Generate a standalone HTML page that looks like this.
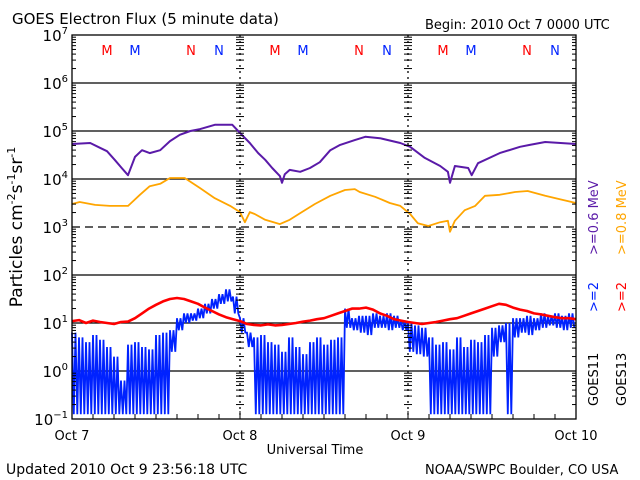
<!DOCTYPE html>
<html><head><meta charset="utf-8"><style>
body{margin:0;background:#fff;}
svg{display:block;font-family:"DejaVu Sans","Liberation Sans",sans-serif;}
</style></head><body>
<svg id="c" width="640" height="480" xmlns="http://www.w3.org/2000/svg">
<rect width="640" height="480" fill="#fff"/>
<text x="12" y="24" font-size="15">GOES Electron Flux (5 minute data)</text>
<text x="425" y="29" font-size="13">Begin: 2010 Oct 7 0000 UTC</text>
<text x="6" y="474" font-size="14">Updated 2010 Oct  9 23:56:18 UTC</text>
<text x="425" y="474" font-size="13">NOAA/SWPC Boulder, CO USA</text>
<text x="315" y="454" font-size="13" text-anchor="middle">Universal Time</text>
<text transform="translate(22,227) rotate(-90)" font-size="17" text-anchor="middle">Particles cm<tspan dy="-7" font-size="11">-2</tspan><tspan dy="7">s</tspan><tspan dy="-7" font-size="11">-1</tspan><tspan dy="7">sr</tspan><tspan dy="-7" font-size="11">-1</tspan></text>
<g font-size="13">
<text transform="translate(598,255) rotate(-90)" fill="#5a1aa8">&gt;=0.6 MeV</text>
<text transform="translate(626,255) rotate(-90)" fill="#ffa500">&gt;=0.8 MeV</text>
<text transform="translate(598,312) rotate(-90)" fill="#0022ff">&gt;=2</text>
<text transform="translate(626,312) rotate(-90)" fill="#ff0000">&gt;=2</text>
<text transform="translate(598,406) rotate(-90)">GOES11</text>
<text transform="translate(626,406) rotate(-90)">GOES13</text>
</g>
<g id="grid"></g><g id="series"></g><g id="axes"></g>
</svg>
<script>
const dayLabels=["Oct 7","Oct 8","Oct 9","Oct 10"];
const decades=[7,6,5,4,3,2,1,0,-1];
const markerLabels=["M","M","N","N"];
const markerHours=[5,9,17,21];
const purpleT=[0,2.6,4,5,6.1,7.1,8,9,10,11.1,12.6,14,15.4,16.9,18.3,20.4,22.9,24,25.4,26.6,27.6,28.6,29.7,30,30.4,31.1,32.6,34,35.4,36.9,38.3,40.4,41.9,44,46.9,48.3,50.4,52.6,53.7,54,54.7,56.6,57.1,58,61.1,64,65.4,67.6,72];
const purpleV=[4.73,4.75,4.65,4.58,4.40,4.23,4.08,4.46,4.60,4.54,4.60,4.79,4.92,5.0,5.04,5.13,5.13,4.96,4.75,4.54,4.40,4.23,4.06,3.92,4.10,4.19,4.15,4.23,4.35,4.60,4.71,4.81,4.88,4.85,4.75,4.67,4.44,4.27,4.15,3.92,4.27,4.23,4.08,4.33,4.54,4.67,4.71,4.77,4.73];
const orangeT=[0,1.1,3.3,5.4,8,8.3,9.7,11.1,12.6,14,16.1,18.3,20.4,22.6,24,24.7,25.4,26.1,27.6,29.7,31.1,32.6,34.7,36.9,39,40.4,41.1,43.3,45.4,46.9,48.3,49.4,50.9,52.6,53.7,54,54.7,56.1,57.6,59,61.1,63.3,65.1,67.6,69.7,72];
const orangeV=[3.48,3.52,3.46,3.44,3.44,3.48,3.67,3.85,3.90,4.02,4.02,3.81,3.60,3.44,3.31,3.10,3.31,3.27,3.15,3.06,3.15,3.29,3.48,3.65,3.77,3.79,3.73,3.63,3.50,3.44,3.27,3.08,3.02,3.10,3.13,2.90,3.13,3.35,3.44,3.65,3.67,3.73,3.75,3.65,3.58,3.50];
const redV=[1.04,1.06,1.0,1.05,1.02,1.0,0.98,1.02,1.03,1.1,1.2,1.3,1.38,1.45,1.5,1.52,1.5,1.45,1.4,1.32,1.25,1.18,1.12,1.08,1.04,0.98,0.96,0.95,0.97,0.95,0.96,0.98,1.0,1.03,1.05,1.08,1.1,1.15,1.2,1.25,1.3,1.3,1.32,1.28,1.2,1.15,1.08,1.05,1.02,1.0,0.98,1.0,1.02,1.05,1.08,1.1,1.15,1.2,1.25,1.3,1.35,1.4,1.38,1.32,1.28,1.25,1.2,1.18,1.15,1.12,1.1,1.1,1.08];
const blueHi=[0.8,0.7,0.6,0.75,0.65,0.5,0.3,-0.2,0.55,0.6,0.5,0.45,0.75,0.8,0.85,1.1,1.2,1.2,1.3,1.4,1.5,1.6,1.7,1.55,1.1,0.8,0.7,0.75,0.6,0.55,0.4,0.7,0.5,0.35,0.6,0.7,0.55,0.65,0.7,1.3,1.1,1.15,1.15,1.2,1.15,1.2,1.15,1.05,1.0,0.95,0.9,0.7,0.55,0.6,0.45,0.7,0.5,0.65,0.6,0.75,0.9,0.95,1.0,1.1,1.1,1.15,1.1,1.2,1.15,1.2,1.15,1.2];
const blueLo=[-0.9,-0.9,-0.9,-0.9,-0.9,-0.9,-0.9,-0.9,-0.9,-0.9,-0.9,-0.9,-0.9,-0.9,0.4,0.85,1.0,1.05,1.1,1.2,1.3,1.4,1.45,1.2,0.8,0.5,-0.9,-0.9,-0.9,-0.9,-0.9,-0.9,-0.9,-0.9,-0.9,-0.9,-0.9,-0.9,-0.9,0.9,0.85,0.8,0.75,0.9,0.9,0.85,0.9,0.85,0.4,0.35,0.3,-0.9,-0.9,-0.9,-0.9,-0.9,-0.9,-0.9,-0.9,-0.9,0.3,0.6,-0.9,0.7,0.8,0.75,0.85,0.9,0.95,0.9,0.85,0.9];

const X0=72,X1=576,Y0=35,Y1=419;
const xs=h=>X0+(X1-X0)*h/72;
const ys=v=>Y0+(7-v)*(Y1-Y0)/8;
const NS="http://www.w3.org/2000/svg";
function mk(tag,attrs,parent){const e=document.createElementNS(NS,tag);for(const k in attrs)e.setAttribute(k,attrs[k]);parent.appendChild(e);return e;}
const grid=document.getElementById('grid'),ser=document.getElementById('series'),ax=document.getElementById('axes');

decades.forEach(d=>{
  const y=ys(d);
  if(d<7&&d>-1){const l=mk('line',{x1:X0,x2:X1,y1:y,y2:y,stroke:'#000','stroke-width':1.3,'stroke-dasharray':d===3?'8,5':'none'},grid);
    
    }
  const t=mk('text',{x:X0-4,y:y+6,'font-size':15,'text-anchor':'end'},ax);
  
  
  t.innerHTML='10<tspan dy="-7" font-size="10">'+(d<0?'−1':d)+'</tspan>';
  if(d>-1){for(let m=2;m<=9;m++){const yy=ys(d-1+Math.log10(m));
    [X0,240,408,X1].forEach((xx,i)=>{mk('line',{x1:i===0?xx:xx-4,x2:i===3?xx:xx+4,y1:yy,y2:yy,stroke:'#000','stroke-width':1},ax);});
  }}
});
dayLabels.forEach((lab,i)=>{
  const x=xs(i*24);
  if(i===1||i===2){const l=mk('line',{x1:x,x2:x,y1:Y0,y2:Y1,stroke:'#000','stroke-width':1.3,'stroke-dasharray':'2,4'},grid);
    
    }
  const t=mk('text',{x:x,y:440,'font-size':13,'text-anchor':'middle'},ax);
  
  
  t.textContent=lab;
});
for(let h=3;h<72;h+=3){mk('line',{x1:xs(h),x2:xs(h),y1:Y1,y2:Y1-(h%24===0?8:5),stroke:'#000'},ax);}
for(let day=0;day<3;day++){markerLabels.forEach((m,i)=>{
  const t=mk('text',{x:xs(day*24+markerHours[i]),y:55,'font-size':13,'text-anchor':'middle',fill:i%2===0?'#ff0000':'#0022ff'},ax);
  
  
  t.textContent=m;});}
function line(T,V,col,w,name){const p=mk('path',{d:T.map((t,i)=>(i?'L':'M')+xs(t).toFixed(1)+','+ys(V[i]).toFixed(1)).join(''),fill:'none',stroke:col,'stroke-width':w,'stroke-linejoin':'round'},ser);
  
  }
let bd='';
blueHi.forEach((v,i)=>{for(let k=0;k<4;k++){const t=i+k*0.25;bd+=(bd?'L':'M')+xs(t).toFixed(1)+','+ys(k%2===0?v:blueLo[i]).toFixed(1);}});
const bp=mk('path',{d:bd,fill:'none',stroke:'#0022ff','stroke-width':1.8},ser);


line(redV.map((v,i)=>i),redV,'#ff0000',2.6,'series-goes13-2mev');
line(orangeT,orangeV,'#ffa500',1.8,'series-goes13-0.8mev');
line(purpleT,purpleV,'#5a1aa8',2,'series-goes11-0.6mev');
const fr=mk('rect',{x:X0,y:Y0,width:X1-X0,height:Y1-Y0,fill:'none',stroke:'#000','stroke-width':1.3},ax);


</script>
</body></html>
